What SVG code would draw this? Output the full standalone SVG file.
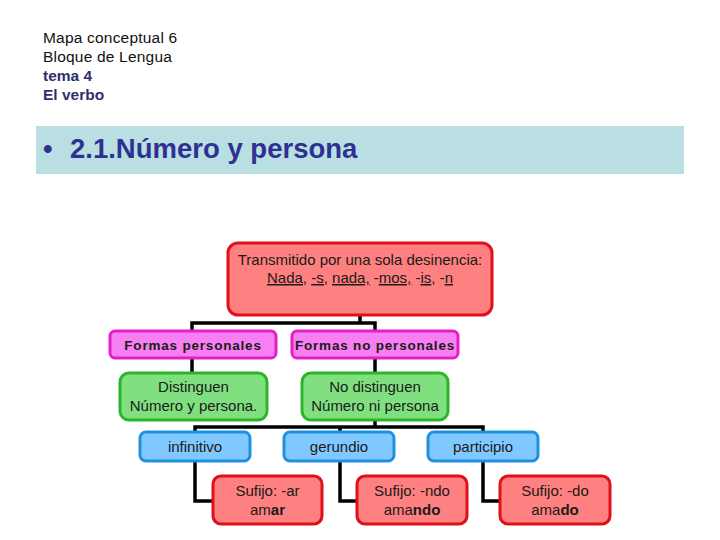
<svg xmlns="http://www.w3.org/2000/svg" width="720" height="540" viewBox="0 0 720 540">
<style>
text{font-family:"Liberation Sans",Arial,sans-serif;fill:#1a1a1a}
.hd{font-size:15.5px;fill:#111;letter-spacing:0.2px}
.hb{font-size:15.5px;font-weight:bold;fill:#2f2f6b}
.t{font-size:15px;text-anchor:middle}
.pk{font-size:13.5px;font-weight:bold;text-anchor:middle;letter-spacing:0.8px}
.red{fill:#ff8080;stroke:#e0101a;stroke-width:3}
.pink{fill:#f77ff2;stroke:#e020c8;stroke-width:3}
.green{fill:#80e080;stroke:#2cb52c;stroke-width:3}
.blue{fill:#80c8ff;stroke:#1e90e0;stroke-width:3}
.c{fill:none;stroke:#000;stroke-width:3.5}
.u{text-decoration:underline}
.bn{font-size:27.5px;font-weight:bold;fill:#2e3192}
</style>
<rect width="720" height="540" fill="#fff"/>
<g id="header">
<text class="hd" x="43" y="43">Mapa conceptual 6</text>
<text class="hd" x="43" y="62">Bloque de Lengua</text>
<text class="hb" x="43" y="81">tema 4</text>
<text class="hb" x="43" y="100">El verbo</text>
</g>
<g id="banner">
<rect x="36" y="126" width="648" height="48" fill="#b9dfe3"/>
<text class="bn" x="43" y="158">•</text>
<text class="bn" x="70" y="158">2.1.Número y persona</text>
</g>
<g id="connectors">
<path class="c" d="M360 315V323M192 331V323H375V331"/>
<path class="c" d="M192 358V373M375 358V373"/>
<path class="c" d="M375 420V427M195 432V427H483V432M340 427V432"/>
<path class="c" d="M195 461V501H213M340 461V501H357M483 461V501H500"/>
</g>
<g id="n_top">
<rect class="red" x="228" y="243" width="264" height="72" rx="10"/>
<text class="t" x="360" y="265">Transmitido por una sola desinencia:</text>
<text class="t" x="360" y="283"><tspan class="u">Nada,</tspan> <tspan class="u">-s,</tspan> <tspan class="u">nada,</tspan> -<tspan class="u">mos,</tspan> -<tspan class="u">is</tspan>, -<tspan class="u">n</tspan></text>
</g>
<g id="n_personales">
<rect class="pink" x="110" y="331" width="166" height="27" rx="5"/>
<text class="pk" x="193" y="349.5">Formas personales</text>
</g>
<g id="n_nopersonales">
<rect class="pink" x="292" y="331" width="166" height="27" rx="5"/>
<text class="pk" x="375" y="349.5">Formas no personales</text>
</g>
<g id="n_distinguen">
<rect class="green" x="120" y="373" width="147" height="47" rx="9"/>
<text class="t" x="193.5" y="392">Distinguen</text>
<text class="t" x="193.5" y="411">Número y persona.</text>
</g>
<g id="n_nodistinguen">
<rect class="green" x="302" y="373" width="146" height="47" rx="9"/>
<text class="t" x="375" y="392">No distinguen</text>
<text class="t" x="375" y="411">Número ni persona</text>
</g>
<g id="n_infinitivo">
<rect class="blue" x="140" y="432" width="110" height="29" rx="6"/>
<text class="t" x="195" y="452">infinitivo</text>
</g>
<g id="n_gerundio">
<rect class="blue" x="284" y="432" width="110" height="29" rx="6"/>
<text class="t" x="339" y="452">gerundio</text>
</g>
<g id="n_participio">
<rect class="blue" x="428" y="432" width="110" height="29" rx="6"/>
<text class="t" x="483" y="452">participio</text>
</g>
<g id="n_ar">
<rect class="red" x="213" y="476" width="109" height="48" rx="8"/>
<text class="t" x="267.5" y="496">Sufijo: -ar</text>
<text class="t" x="267.5" y="515">am<tspan font-weight="bold">ar</tspan></text>
</g>
<g id="n_ndo">
<rect class="red" x="357" y="476" width="110" height="48" rx="8"/>
<text class="t" x="412" y="496">Sufijo: -ndo</text>
<text class="t" x="412" y="515">ama<tspan font-weight="bold">ndo</tspan></text>
</g>
<g id="n_do">
<rect class="red" x="500" y="476" width="110" height="48" rx="8"/>
<text class="t" x="555" y="496">Sufijo: -do</text>
<text class="t" x="555" y="515">ama<tspan font-weight="bold">do</tspan></text>
</g>
</svg>
